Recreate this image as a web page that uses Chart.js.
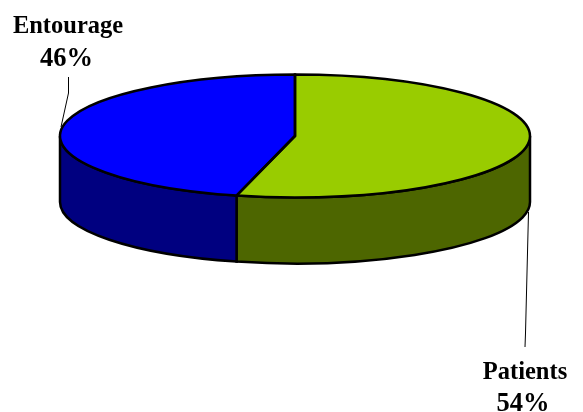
<!DOCTYPE html>
<html>
<head>
<meta charset="utf-8">
<title>Patients and entourage</title>
<style>
  html, body { margin: 0; background: #fff; }
  canvas { display: block; }
</style>
<script src="https://cdn.jsdelivr.net/npm/chart.js@4"></script>
</head>
<body>
<canvas id="chart-pie" width="583" height="412"></canvas>
<script>
const labels = ["Patients", "Entourage"];
const values = [54, 46];
const faceColors = ["#99CC00", "#0000FF"];
const wallColors = ["#4D6600", "#000080"];

const squash = 61.5 / 235; // flattening of the disc
const depth = 66;

// pie is drawn flat by Chart.js, this turns it into a tilted disc with a rim
const discPlugin = {
  id: "disc",
  beforeDatasetsDraw(chart) {
    const { ctx } = chart;
    const arcs = chart.getDatasetMeta(0).data;

    arcs.forEach((arc, i) => {
      const { x, y, outerRadius, startAngle, endAngle } = arc.getProps(["x", "y", "outerRadius", "startAngle", "endAngle"]);
      const from = Math.max(startAngle, 0);
      const to = Math.min(endAngle, Math.PI);
      if (to <= from) return;
      const ry = outerRadius * squash;
      ctx.beginPath();
      ctx.ellipse(x, y, outerRadius, ry, 0, from, to);
      ctx.ellipse(x, y + depth, outerRadius, ry, 0, to, from, true);
      ctx.closePath();
      ctx.fillStyle = wallColors[i];
      ctx.fill();
      ctx.lineWidth = 2.5;
      ctx.strokeStyle = "#000";
      ctx.stroke();
    });

    const { x, y } = arcs[0];
    ctx.save();
    ctx.translate(x, y);
    ctx.scale(1, squash);
    ctx.translate(-x, -y);
  },
  afterDatasetsDraw(chart) {
    const { ctx } = chart;
    ctx.restore();

    // outlines go on after the restore so the pen is not flattened too
    chart.getDatasetMeta(0).data.forEach((arc) => {
      const { x, y, outerRadius, startAngle, endAngle } = arc.getProps(["x", "y", "outerRadius", "startAngle", "endAngle"]);
      ctx.beginPath();
      ctx.moveTo(x, y);
      ctx.ellipse(x, y, outerRadius, outerRadius * squash, 0, startAngle, endAngle);
      ctx.closePath();
      ctx.lineWidth = 2.5;
      ctx.strokeStyle = "#000";
      ctx.stroke();
    });

    // leader lines
    ctx.lineWidth = 1;
    ctx.strokeStyle = "#000";
    ctx.beginPath();
    ctx.moveTo(68.5, 77);
    ctx.lineTo(68.5, 93);
    ctx.lineTo(61, 127);
    ctx.moveTo(528.5, 212);
    ctx.lineTo(525.5, 333);
    ctx.lineTo(525, 347);
    ctx.stroke();

    // slice labels
    ctx.fillStyle = "#000";
    ctx.textAlign = "center";
    ctx.textBaseline = "alphabetic";
    ctx.font = "bold 24.5px 'Liberation Serif'";
    ctx.fillText(labels[1], 68, 33);
    ctx.fillText(labels[0], 525, 379);
    ctx.font = "bold 26.5px 'Liberation Serif'";
    ctx.fillText(values[1] + "%", 66.5, 66);
    ctx.fillText(values[0] + "%", 523, 411);
  }
};

new Chart(document.getElementById("chart-pie"), {
  type: "pie",
  data: {
    labels: labels,
    datasets: [
      {
        data: values,
        backgroundColor: faceColors,
        borderWidth: 0,
        radius: 235,
        clip: false
      }
    ]
  },
  options: {
    responsive: false,
    animation: false,
    layout: { padding: { left: 7, bottom: 140 } },
    plugins: {
      legend: { display: false },
      tooltip: { enabled: false }
    }
  },
  plugins: [discPlugin]
});
</script>
</body>
</html>
